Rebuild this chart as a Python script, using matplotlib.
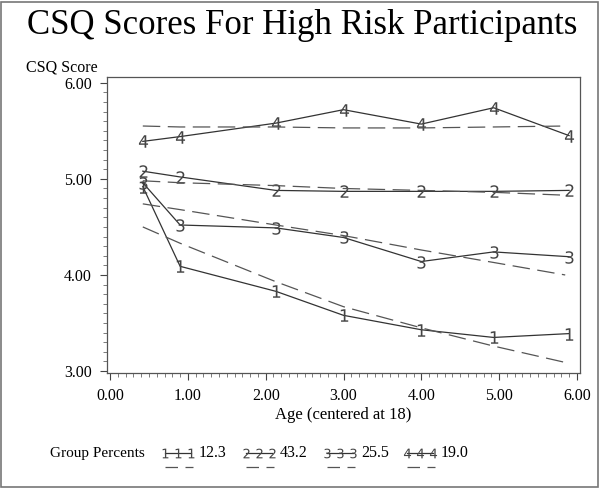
import matplotlib.pyplot as plt
from matplotlib.lines import Line2D
from matplotlib.patches import Rectangle
from matplotlib.ticker import MultipleLocator, FormatStrFormatter

# observed means per group (age centered at 18)
ages = [0.42, 0.90, 2.13, 3.00, 4.00, 4.93, 5.90]
grp1 = [4.92, 4.09, 3.83, 3.58, 3.43, 3.35, 3.39]
grp2 = [5.08, 5.02, 4.88, 4.87, 4.87, 4.87, 4.88]
grp3 = [4.96, 4.52, 4.49, 4.39, 4.14, 4.24, 4.19]
grp4 = [5.39, 5.44, 5.58, 5.72, 5.57, 5.74, 5.45]

# fitted trajectories (dashed)
fit_ages = [0.42, 0.90, 2.13, 3.00, 4.00, 4.93, 5.85]
fit1 = [4.50, 4.33, 3.93, 3.67, 3.45, 3.26, 3.09]
fit2 = [4.98, 4.96, 4.93, 4.90, 4.88, 4.86, 4.83]
fit3 = [4.74, 4.68, 4.52, 4.41, 4.26, 4.13, 4.00]
fit4 = [5.55, 5.54, 5.54, 5.53, 5.53, 5.54, 5.55]

group_labels = ['1', '2', '3', '4']
group_pcts = ['12.3', '43.2', '25.5', '19.0']

serif = 'Liberation Serif'
solid_col = '#333333'
dash_col = '#555555'

fig = plt.figure(figsize=(6.0, 4.88), dpi=100)
ax = fig.add_axes([107/600, 1-373/488, 473/600, 296/488])

observed = [grp1, grp2, grp3, grp4]
fitted = [fit1, fit2, fit3, fit4]
for lab, obs, fit in zip(group_labels, observed, fitted):
    ax.plot(ages, obs, color=solid_col, lw=0.9, marker=r'$\mathregular{%s}$' % lab,
            markersize=9, markeredgewidth=0, markerfacecolor='#444444')
    ax.plot(fit_ages, fit, color=dash_col, lw=0.9, dashes=(14, 6))

ax.set_xlim(-0.04, 6.04)
ax.set_ylim(2.98, 6.06)
ax.xaxis.set_major_locator(MultipleLocator(1))
ax.xaxis.set_minor_locator(MultipleLocator(0.1))
ax.yaxis.set_major_locator(MultipleLocator(1))
ax.yaxis.set_minor_locator(MultipleLocator(0.1))
ax.xaxis.set_major_formatter(FormatStrFormatter('%.2f'))
ax.yaxis.set_major_formatter(FormatStrFormatter('%.2f'))
ax.tick_params(which='major', length=5, width=0.8, color='#444444', pad=6)
ax.tick_params(which='minor', length=3, width=0.6, color='#666666')
for lbl in ax.get_xticklabels() + ax.get_yticklabels():
    lbl.set_fontfamily(serif)
    lbl.set_fontsize(11.5)
for sp in ax.spines.values():
    sp.set_color('#555555')
    sp.set_linewidth(0.9)

fig.text(0.503, 1-26/488, 'CSQ Scores For High Risk Participants', ha='center', va='center',
         family=serif, fontsize=25)
fig.text(26/600, 1-68/488, 'CSQ Score', ha='left', va='center', family=serif, fontsize=11.5)
fig.text(343/600, 1-415/488, 'Age (centered at 18)', ha='center', va='center',
         family=serif, fontsize=12)

# legend drawn by hand, SAS style
ly = 1-453/488
dy = 1-467/488
fig.text(50/600, ly, 'Group Percents', ha='left', va='center', family=serif, fontsize=11)
starts = [165, 246, 327, 407]
for x0, lab, pct in zip(starts, group_labels, group_pcts):
    xs = [x0/600, (x0+13)/600, (x0+26)/600]
    fig.add_artist(Line2D(xs, [ly]*3, transform=fig.transFigure, color=solid_col, lw=0.9,
                          marker=r'$\mathregular{%s}$' % lab, markersize=7, markeredgewidth=0,
                          markerfacecolor='#444444'))
    fig.add_artist(Line2D([x0/600, (x0+28)/600], [dy, dy], transform=fig.transFigure,
                          color=dash_col, lw=0.9, dashes=(10, 6)))
    fig.text((x0+34)/600, ly, pct, ha='left', va='center', family=serif, fontsize=11.5)

fig.add_artist(Rectangle((1/600, 1/488), 597/600, 485/488, transform=fig.transFigure,
                         fill=False, edgecolor='#777777', lw=1.2))

fig.savefig('out.png', dpi=100)
